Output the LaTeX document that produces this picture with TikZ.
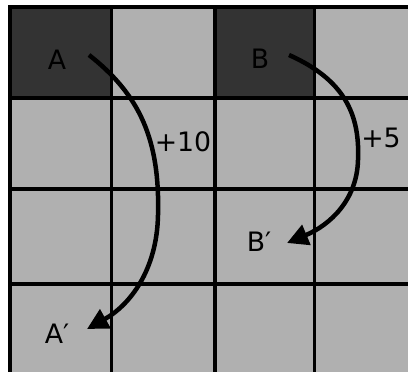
\documentclass[tikz,border=0pt]{standalone}
\usepackage{fontspec}
\setmainfont{DejaVu Sans}
\usepackage{tikz}
\usetikzlibrary{arrows.meta}
\definecolor{cellgray}{RGB}{176,176,176}
\definecolor{darkcell}{RGB}{51,51,51}

\begin{document}
\begin{tikzpicture}[x=0.025cm,y=-0.025cm,
  gridline/.style={line width=2.6pt,line cap=rect},
  move/.style={line width=3.2pt,-{Triangle[length=15pt,width=15pt]}},
  lbl/.style={inner sep=0pt}]
\useasboundingbox (0,0) rectangle (408,372);
\clip (0,0) rectangle (408,372);
\fill[cellgray] (10,6.7) rectangle (416,376);
\fill[darkcell] (10,6.7) rectangle (111.5,98.3);
\fill[darkcell] (215,6.7) rectangle (314.5,98.3);
\foreach \x in {10,111.5,215,314.5,416}
  \draw[gridline] (\x,6.7) -- (\x,376);
\foreach \y in {6.7,98.3,188.7,284,376}
  \draw[gridline] (10,\y) -- (416,\y);
\fontsize{19pt}{19pt}
\selectfont
\node[lbl] (a) at (57,60){A};
\node[lbl] (b) at (260,59){B};
\node[lbl] (aa) at (57,334){A′};
\node[lbl] (bb) at (259,242){B′};
\node[lbl] (ta) at (183,142){+10};
\node[lbl] (tb) at (381,138){+5};
% start and end of the moves
\coordinate (as) at (89,55);
\coordinate (ae) at (87,329);
\coordinate (bs) at (289,55);
\coordinate (be) at (287,243);
\draw[move] (as) .. controls (140,95) and (160,140) .. (158,215) .. controls (157,270) and (130,305) .. (ae);
\draw[move] (bs) .. controls (345,80) and (360,115) .. (358,160) .. controls (357,200) and (330,225) .. (be);
\end{tikzpicture}
\end{document}
